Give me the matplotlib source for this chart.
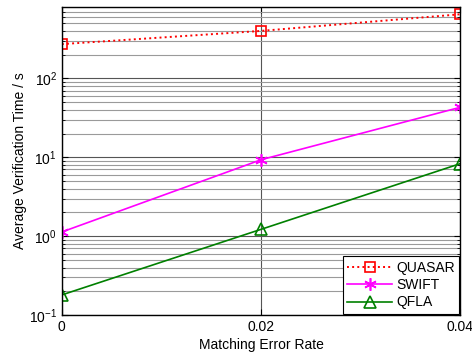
import matplotlib
matplotlib.use('Agg')
import matplotlib.pyplot as plt
from matplotlib.ticker import LogLocator, NullFormatter, FixedLocator

plt.rcParams['font.family'] = ['Liberation Sans', 'DejaVu Sans']

# data
error_rate = [0, 0.02, 0.04]
quasar = [272, 400, 650]
swift = [1.13, 9.3, 43]
qfla = [0.18, 1.22, 8.3]

fs = 10

fig = plt.figure(figsize=(4.72, 3.58), dpi=100)
ax = fig.add_axes([0.131, 0.120, 0.844, 0.860])

ax.plot(error_rate, quasar, color='red', linestyle=':', linewidth=1.4,
        marker='s', markersize=7, markerfacecolor='none', markeredgewidth=1.2, label='QUASAR')
ax.plot(error_rate, swift, color='magenta', linestyle='-', linewidth=1.2,
        marker=(6, 2, 0), markersize=9, markeredgewidth=1.2, label='SWIFT')
ax.plot(error_rate, qfla, color=(0, 0.5, 0), linestyle='-', linewidth=1.2,
        marker='^', markersize=8, markerfacecolor='none', markeredgewidth=1.2, label='QFLA')

ax.set_yscale('log')
ax.set_xlim(0, 0.04)
ax.set_ylim(0.1, 800)
ax.xaxis.set_major_locator(FixedLocator(error_rate))
ax.set_xticklabels(['0', '0.02', '0.04'])
ax.yaxis.set_major_locator(LogLocator(base=10, numticks=10))
ax.yaxis.set_minor_locator(LogLocator(base=10, subs=range(2, 10), numticks=20))
ax.yaxis.set_minor_formatter(NullFormatter())

ax.grid(True, which='major', color='#555555', linewidth=0.8)
ax.grid(True, which='minor', axis='y', color='#9a9a9a', linewidth=0.8)
ax.set_axisbelow(True)

ax.tick_params(which='both', direction='in', top=True, right=True, labelsize=fs, colors='black')
ax.tick_params(which='major', length=4)
ax.tick_params(which='minor', length=2)
for s in ax.spines.values():
    s.set_linewidth(1.0)

ax.set_xlabel('Matching Error Rate', fontsize=fs, labelpad=3)
ax.set_ylabel('Average Verification Time / s', fontsize=fs, labelpad=1)

leg = ax.legend(loc='lower right', fontsize=fs, fancybox=False, framealpha=1,
                edgecolor='black', handlelength=3.2, borderaxespad=0.1,
                labelspacing=0.25, borderpad=0.3, handletextpad=0.3)
leg.get_frame().set_linewidth(0.8)

fig.savefig('out.png', dpi=100)
